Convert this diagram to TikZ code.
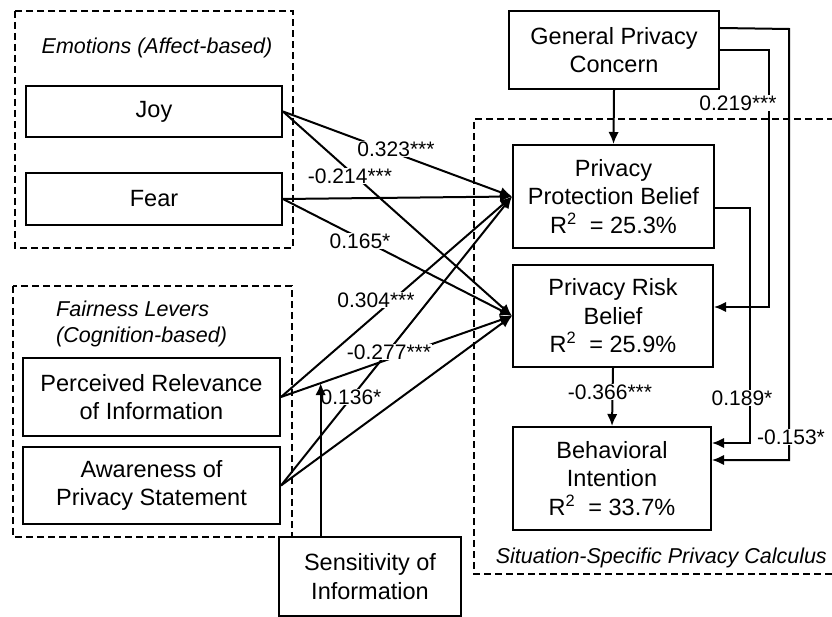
\documentclass[tikz,border=0pt]{standalone}
\usepackage{fontspec}
\setmainfont{Liberation Sans}
\usetikzlibrary{arrows.meta,calc}
\begin{document}
\begin{tikzpicture}[x=1pt,y=-1pt,
  bx/.style={draw,line width=2pt,inner sep=0pt,align=center,font=\fontsize{23.5}{28.5}\selectfont},
  grp/.style={draw,line width=1.5pt,dash pattern=on 7pt off 4pt},
  arr/.style={line width=2pt,-{Latex[length=12pt,width=10.5pt]}},
  lbl/.style={fill=white,inner sep=0.5pt,font=\fontsize{21}{24}\selectfont},
  ttl/.style={inner sep=0pt,font=\fontsize{21.5}{26}\selectfont\itshape}]
\useasboundingbox (0,0) rectangle (832,617);
% group frames
\draw[grp] (15,11) rectangle (293,248);
\draw[grp] (13,286) rectangle (292,537);
\draw[grp] (845,119) -- (474,119) -- (474,574) -- (845,574);
\node[ttl] (emot) at (157,48) {Emotions (Affect-based)};
\node[ttl,align=left,anchor=west] (fair) at (56,324) {Fairness Levers\\(Cognition-based)};
\node[ttl,anchor=east] (situ) at (827,558) {Situation-Specific Privacy Calculus};
% boxes
\node[bx,minimum width=256pt,minimum height=51pt] (joy) at (154,111.5) {Joy};
\node[bx,minimum width=256pt,minimum height=52pt] (fear) at (154,199) {Fear};
\node[bx,minimum width=257pt,minimum height=78pt] (rel) at (151.5,397) {Perceived Relevance\\of Information};
\node[bx,minimum width=257pt,minimum height=77pt] (awa) at (151.5,485.5) {Awareness of\\Privacy Statement};
\node[bx,minimum width=182pt,minimum height=79pt] (sens) at (370,576.5) {Sensitivity of\\Information};
\node[bx,minimum width=210pt,minimum height=78pt] (gpc) at (614,50) {General Privacy\\Concern};
\node[bx,minimum width=201pt,minimum height=103pt] (prot) at (613.5,196.5) {Privacy\\Protection Belief\\R\textsuperscript{2}\ \ = 25.3\%};
\node[bx,minimum width=200pt,minimum height=102pt] (risk) at (613,316) {Privacy Risk\\Belief\\R\textsuperscript{2}\ \ = 25.9\%};
\node[bx,minimum width=198pt,minimum height=103pt] (beh) at (612,478.5) {Behavioral\\Intention\\R\textsuperscript{2}\ \ = 33.7\%};
% left connectors
\draw[arr] (joy.east) -- (prot.west);
\draw[arr] (joy.east) -- (risk.west);
\draw[arr] (fear.east) -- (prot.west);
\draw[arr] (fear.east) -- (risk.west);
\draw[arr] (rel.east) -- (prot.west);
\draw[arr] (rel.east) -- (risk.west);
\draw[arr] (awa.east) -- (prot.west);
\draw[arr] (awa.east) -- (risk.west);
\coordinate (mod) at ($(rel.east)!0.1717!(risk.west)$);
% right connectors
\draw[arr] (gpc.south) -- (prot.north);
\draw[arr] (risk.south) -- (beh.north);
\draw[arr] (gpc.east) -- (769,50) -- (769,307) -- ([yshift=9pt]risk.east);
\draw[arr] ([yshift=-18pt]gpc.north east) -- (789,29) -- (789,460) -- ([yshift=18.5pt]beh.east);
\draw[arr] ([yshift=-11.5pt]prot.east) -- (750,208) -- (750,443) -- ([yshift=35.5pt]beh.east);
% labels
\node[lbl] (l1) at (396,149) {0.323***};
\node[lbl] (l2) at (350,176) {-0.214***};
\node[lbl] (l3) at (360,241) {0.165*};
\node[lbl] (l4) at (376,300) {0.304***};
\node[lbl] (l5) at (389,352) {-0.277***};
\node[lbl] (l6) at (351,397) {0.136*};
\node[lbl] (l7) at (738,103) {0.219***};
\node[lbl] (l8) at (742,398) {0.189*};
\node[lbl] (l9) at (791,437) {-0.153*};
\node[lbl] (l10) at (610,392) {-0.366***};
% moderator arrow on top
\draw[arr] (mod |- sens.north) -- (mod);
\end{tikzpicture}
\end{document}
